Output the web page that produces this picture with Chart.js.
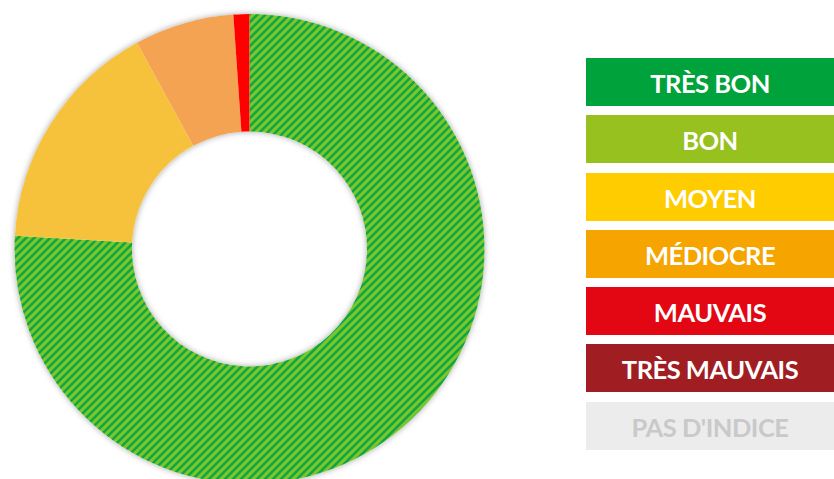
<!DOCTYPE html>
<html lang="fr">
<head>
<meta charset="utf-8">
<script src="https://cdn.jsdelivr.net/npm/chart.js@4"></script>
<style>
  html, body { margin: 0; padding: 0; background: #fff; width: 834px; height: 479px; overflow: hidden; }
  #wrap { position: absolute; left: 0; top: 0; width: 499px; height: 498px; }
  #legend { position: absolute; left: 586px; top: 58px; width: 248px; margin: 0; padding: 0; list-style: none; }
  #legend li {
    height: 48px; margin-bottom: 9.3px; color: #fff; box-sizing: border-box; padding-top: 2px;
    font-family: Lato, "Open Sans", sans-serif; font-weight: 700; font-size: 25.5px;
    letter-spacing: -0.5px; line-height: 46px; text-align: center;
  }
</style>
</head>
<body>
<div id="wrap"><canvas id="chart"></canvas></div>
<ul id="legend"></ul>
<script>
// Days per air-quality index class over the year
const categories = ['Très bon / Bon', 'Moyen', 'Médiocre', 'Mauvais'];
const days = [277, 59, 25, 4];

// Index scale shown on the right
const scaleLabels = ['TRÈS BON', 'BON', 'MOYEN', 'MÉDIOCRE', 'MAUVAIS', 'TRÈS MAUVAIS', "PAS D'INDICE"];
const scaleColors = ['#00a23c', '#96c11f', '#ffcc00', '#f5a400', '#e30613', '#a01e22', '#ececec'];
const scaleText = ['#fff', '#fff', '#fff', '#fff', '#fff', '#fff', '#c9c9c9'];

// Diagonal stripes mixing the two green classes
function stripes(light, dark) {
  const s = 8;
  const c = document.createElement('canvas');
  c.width = s; c.height = s;
  const g = c.getContext('2d');
  g.fillStyle = light;
  g.fillRect(0, 0, s, s);
  g.strokeStyle = dark;
  g.lineWidth = 2.6;
  g.beginPath();
  g.moveTo(-2, 2); g.lineTo(2, -2);
  g.moveTo(0, s); g.lineTo(s, 0);
  g.moveTo(s - 2, s + 2); g.lineTo(s + 2, s - 2);
  g.stroke();
  return g.createPattern(c, 'repeat');
}

const sliceColors = [stripes('#7cc62c', '#10a643'), '#f7c23b', '#f3a352', '#ff0000'];

// Soft halo under the ring
const ringShadow = {
  id: 'ringShadow',
  beforeDatasetsDraw(chart) {
    const arc = chart.getDatasetMeta(0).data[0];
    if (!arc) return;
    const { x, y, outerRadius, innerRadius } = arc.getProps(['x', 'y', 'outerRadius', 'innerRadius'], true);
    const ctx = chart.ctx;
    ctx.save();
    ctx.shadowColor = 'rgba(0,0,0,0.35)';
    ctx.shadowBlur = 6;
    ctx.fillStyle = '#fff';
    ctx.beginPath();
    ctx.arc(x, y, outerRadius, 0, Math.PI * 2);
    ctx.arc(x, y, innerRadius, 0, Math.PI * 2, true);
    ctx.fill();
    ctx.restore();
  }
};

new Chart(document.getElementById('chart'), {
  type: 'doughnut',
  data: {
    labels: categories,
    datasets: [{ data: days, backgroundColor: sliceColors, borderWidth: 0, hoverOffset: 0 }]
  },
  options: {
    responsive: true,
    maintainAspectRatio: false,
    animation: false,
    cutout: '50%',
    layout: { padding: 14 },
    plugins: { legend: { display: false }, tooltip: { enabled: false } }
  },
  plugins: [ringShadow]
});

const ul = document.getElementById('legend');
scaleLabels.forEach((t, i) => {
  const li = document.createElement('li');
  li.textContent = t;
  li.style.background = scaleColors[i];
  li.style.color = scaleText[i];
  ul.appendChild(li);
});
</script>
</body>
</html>
